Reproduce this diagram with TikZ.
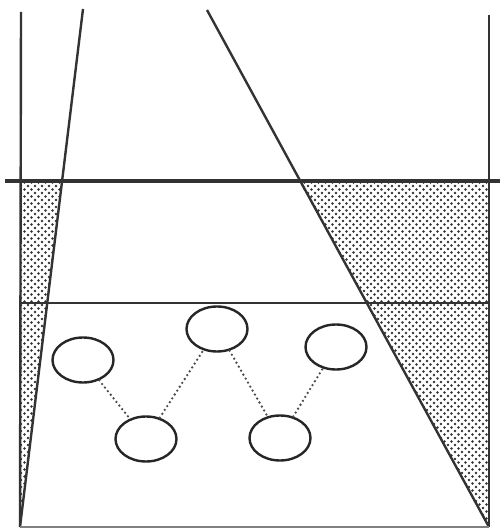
\documentclass[tikz,border=0pt]{standalone}
\usetikzlibrary{shapes.geometric,patterns.meta}
\begin{document}
\begin{tikzpicture}[x=1pt,y=-1pt,
  wall/.style={line width=2.4pt,draw=black!80},
  thickline/.style={line width=4.4pt,draw=black!80},
  ball/.style={ellipse,draw=black!85,line width=2.4pt,minimum width=61pt,minimum height=45pt,inner sep=0pt},
  link/.style={line width=2.6pt,draw=black!70,line cap=round,dash pattern=on 0pt off 4.6pt},
  dotsA/.style={pattern={Dots[distance=7pt,radius=1.3pt]},pattern color=black!80},
  dotsB/.style={pattern={Dots[distance=7pt,radius=1.3pt,xshift=3.5pt,yshift=3.5pt]},pattern color=black!80}]
\useasboundingbox (0,0) rectangle (500,529);
% key points
\coordinate (LT) at (21,12);
\coordinate (LB) at (20,527);
\coordinate (RT) at (489,15);
\coordinate (RB) at (489,527);
\coordinate (DLt) at (83,9);
\coordinate (DLm) at (62,181);
\coordinate (DRt) at (207,10);
\coordinate (DRm) at (299,181);
\coordinate (TL) at (5,181);
\coordinate (TR) at (500,181);
\coordinate (ML) at (20,303);
\coordinate (MR) at (489,303);
\coordinate (WL) at (20,181);
\coordinate (WR) at (489,181);
% shaded regions
\fill[dotsA] (WL) -- (DLm) -- (LB) -- cycle;
\fill[dotsB] (WL) -- (DLm) -- (LB) -- cycle;
\fill[dotsA] (DRm) -- (WR) -- (RB) -- cycle;
\fill[dotsB] (DRm) -- (WR) -- (RB) -- cycle;
% walls and lines
\draw[wall] (LT) -- (LB);
\draw[wall] (RT) -- (RB);
\draw[wall] (DLt) -- (LB);
\draw[wall] (DRt) -- (RB);
\draw[wall,line width=1.8pt] (ML) -- (MR);
\draw[wall,line width=1.2pt,draw=black!50] (LB) -- (RB);
\draw[thickline] (TL) -- (TR);
% balls
\node[ball] (b1) at (83,360) {};
\node[ball] (b2) at (217,329) {};
\node[ball] (b3) at (336,347) {};
\node[ball] (b4) at (146,439) {};
\node[ball] (b5) at (280,438) {};
\draw[link] (b1) -- (b4);
\draw[link] (b4) -- (b2);
\draw[link] (b2) -- (b5);
\draw[link] (b5) -- (b3);
\end{tikzpicture}
\end{document}
